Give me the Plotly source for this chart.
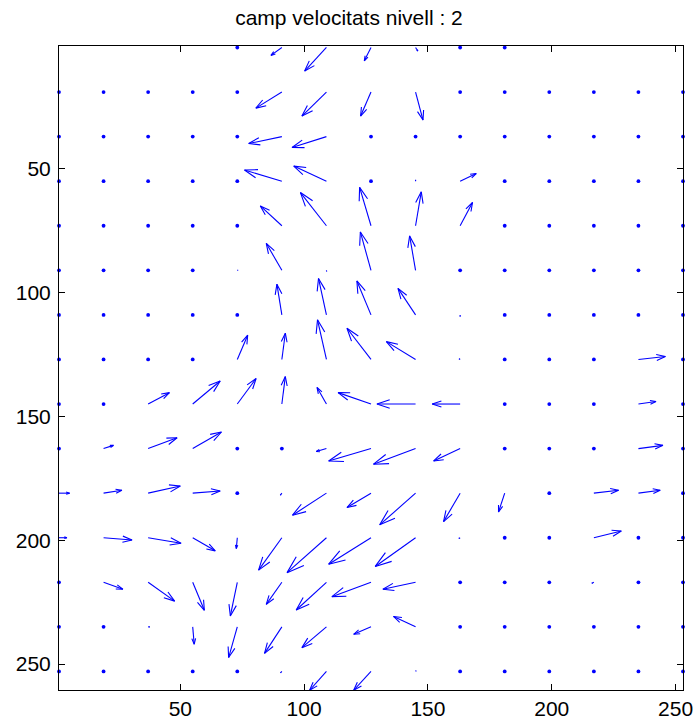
import math
import plotly.graph_objects as go

# Sampling grid (pixel indices of the velocity field)
x_grid = list(range(1, 254, 18))
y_grid = list(range(1, 254, 18))

nan = float("nan")

# Horizontal velocity component, one list per grid row (top to bottom)
U = [
    [nan, nan, nan, nan, 0, -4.4, -8.8, -2.7, 0.9, 0, 0, nan, nan, nan, nan],
    [0, 0, 0, 0, 0, -10.5, -9.9, -4.2, 3.0, 0, 0, 0, 0, 0, 0],
    [0, 0, 0, 0, 0, -13.4, -13.9, 0, 0, 0, 0, 0, 0, 0, 0],
    [0, 0, 0, 0, 0, -15.1, -13.2, 0, 0, 6.5, 0, 0, 0, 0, 0],
    [0, 0, 0, 0, 0, -8.7, -10.5, -4.6, 2.3, 5.0, 0, 0, 0, 0, 0],
    [0, 0, 0, 0, 0.3, -6.3, 0.1, -4.3, -2.4, 0, 0, 0, 0, 0, 0],
    [0, 0, 0, 0, 0, -2.0, -3.2, -5.7, -7.1, 0, 0, 0, 0, 0, 0],
    [0, 0, 0, 0, 4.2, 1.4, -3.6, -9.7, -11.8, -0.4, 0, 0, 0, 10.9, 0],
    [0, 0, 8.6, 11.1, 7.6, 1.4, -3.8, -13.3, -15.6, -11.3, 0, 0, 0, 7.1, 0],
    [0, 4.0, 11.7, 11.6, 0, 0, -4.1, -17.1, -17.0, -10.7, 0, 0, 0, 9.9, 0],
    [4.3, 7.4, 13.0, 11.1, 0, -0.6, -13.7, -9.7, -14.5, -6.7, -2.5, 0, 10.0, 8.8, 0],
    [3.2, 11.5, 13.3, 9.1, -0.4, -9.4, -15.9, -17.1, -16.3, -0.5, 0, 0, 11.1, 0, 0],
    [0, 7.8, 10.7, 4.7, -2.8, -6.3, -12.2, -15.8, -13.2, 0, 0, 0, -0.8, 0, 0],
    [0, 0, 0.6, 0.6, -3.5, -7.0, -9.9, -7.0, -8.9, 0, 0, 0, 0, 0, 0],
    [0, 0, 0, 0, 0, -0.5, -6.8, -7.0, 0.2, 0, 0, 0, 0, 0, 0],
]

# Vertical velocity component (positive = downward, image convention)
V = [
    [nan, nan, nan, nan, 0, 3.2, 9.5, 5.4, 1.4, 0, 0, nan, nan, nan, nan],
    [0, 0, 0, 0, 0, 6.5, 9.7, 9.7, 11.3, 0, 0, 0, 0, 0, 0],
    [0, 0, 0, 0, 0, 2.8, 4.4, 0, 0, 0, 0, 0, 0, 0, 0],
    [0, 0, 0, 0, 0, -4.5, -6.1, 0, -0.5, -3.1, 0, 0, 0, 0, 0],
    [0, 0, 0, 0, 0, -8.0, -13.4, -15.5, -13.7, -9.4, 0, 0, 0, 0, 0],
    [0, 0, 0, 0, 0.0, -10.9, 0.4, -15.5, -13.9, 0, 0, 0, 0, 0, 0],
    [0, 0, 0, 0, 0, -12.4, -14.7, -13.7, -10.7, 0.6, 0, 0, 0, 0, 0],
    [0, 0, 0, 0, -9.8, -10.6, -16.0, -12.6, -7.2, -0.3, 0, 0, 0, -1.2, 0],
    [0, 0, -4.6, -9.3, -10.3, -11.1, -6.7, -4.6, 0, 0, 0, 0, 0, -1.0, 0],
    [0, -1.3, -4.4, -6.7, 0, 0, 1.2, 5.0, 6.3, 5.0, 0, 0, 0, -1.3, 0],
    [0, -1.2, -2.9, -0.9, 0, 0.8, 8.9, 5.8, 12.8, 11.5, 7.6, 0, -1.2, -1.2, 0],
    [0, 0.9, 2.2, 5.3, 4.4, 13.1, 14.1, 10.7, 11.6, 0.3, 0, 0, -2.7, 0, 0],
    [0, 2.8, 7.6, 11.3, 13.6, 8.9, 11.2, 5.8, 2.8, 0, 0, 0, 0.4, 0, 0],
    [0, 0, 0, 7.0, 12.4, 10.7, 8.4, 3.0, -4.2, 0, 0, 0, 0, 0, 0],
    [0, 0, 0, 0, 0, 0.5, 7.6, 7.6, -0.3, 0, 0, 0, 0, 0, 0],
]

TITLE = "camp velocitats nivell : 2"
TICKS = [50, 100, 150, 200, 250]

# quiver-style arrow geometry (head length / width ratios)
ALPHA = 0.33
BETA = 0.33

ax_lines, ay_lines = [], []
dot_x, dot_y = [], []
for j, y in enumerate(y_grid):
    for i, x in enumerate(x_grid):
        u, v = U[j][i], V[j][i]
        if math.isnan(u) or math.isnan(v):
            continue
        if u == 0 and v == 0:
            dot_x.append(x)
            dot_y.append(y)
            continue
        tx, ty = x + u, y + v
        h1x = tx - ALPHA * (u + BETA * v)
        h1y = ty - ALPHA * (v - BETA * u)
        h2x = tx - ALPHA * (u - BETA * v)
        h2y = ty - ALPHA * (v + BETA * u)
        ax_lines += [x, tx, None, h1x, tx, h2x, None]
        ay_lines += [y, ty, None, h1y, ty, h2y, None]

BLUE = "rgb(0,0,255)"
fig = go.Figure()
fig.add_trace(go.Scatter(
    x=ax_lines, y=ay_lines, mode="lines",
    line=dict(color=BLUE, width=1.1),
    hoverinfo="skip", showlegend=False,
))
fig.add_trace(go.Scatter(
    x=dot_x, y=dot_y, mode="markers",
    marker=dict(color=BLUE, size=3.8, line=dict(width=0)),
    hoverinfo="skip", showlegend=False, cliponaxis=False,
))

FONT = "Liberation Sans, Arial, sans-serif"
axis_common = dict(
    showgrid=False, zeroline=False, automargin=False,
    showline=True, linecolor="black", linewidth=1, mirror="ticks",
    ticks="inside", ticklen=6, tickwidth=1, tickcolor="black",
    tickvals=TICKS, ticktext=[str(t) for t in TICKS],
    tickfont=dict(family=FONT, size=21, color="black"),
)

fig.update_layout(
    width=698, height=728,
    margin=dict(l=59, r=15, t=46, b=38),
    paper_bgcolor="white", plot_bgcolor="white",
    title=dict(
        text=TITLE, x=0.5, xanchor="center", xref="container",
        y=1 - 18 / 728, yanchor="middle", yref="container",
        font=dict(family=FONT, size=21, color="black"),
        automargin=False,
    ),
    xaxis=dict(range=[1, 253], **axis_common),
    yaxis=dict(range=[260.5, 0.4], ticklabelstandoff=3, **axis_common),
)

fig.write_html("out.html")
